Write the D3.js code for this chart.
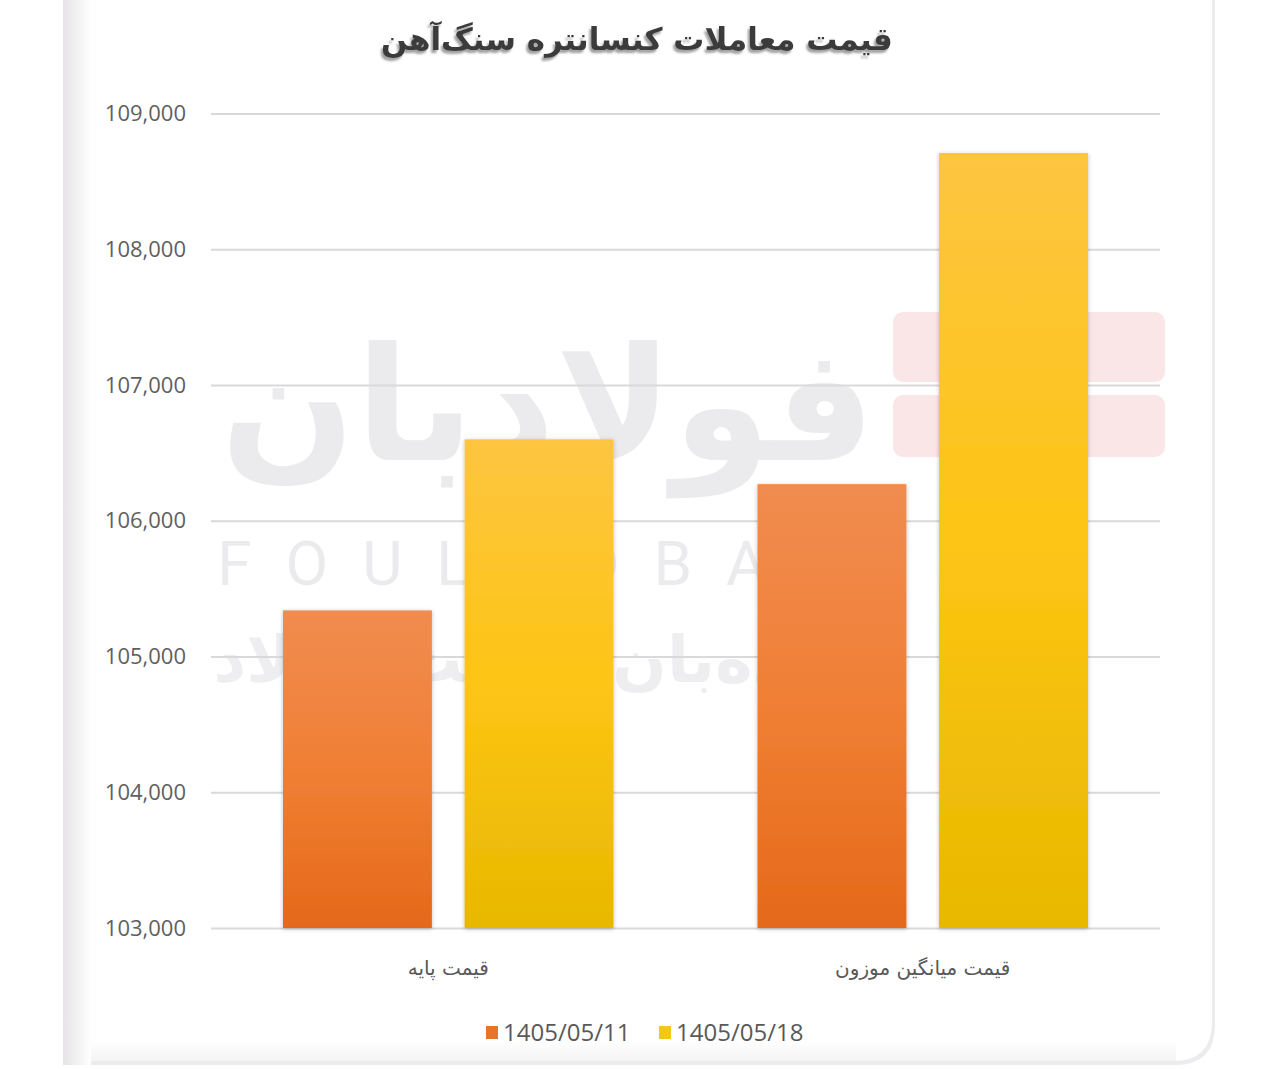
<!DOCTYPE html>
<html><head><meta charset="utf-8">
<script src="https://cdn.jsdelivr.net/npm/d3@7"></script>
<style>
html,body{margin:0;padding:0;background:#fff;}
svg{display:block;}
</style></head>
<body>
<svg id="chart" width="1280" height="1069"></svg>
<script>
const title = "قیمت معاملات کنسانتره سنگ‌آهن";
const categories = ["قیمت پایه", "قیمت میانگین موزون"];
const seriesNames = ["1405/05/11", "1405/05/18"];
const series1 = [105340, 106270];
const series2 = [106600, 108710];
const yTicks = [103000, 104000, 105000, 106000, 107000, 108000, 109000];

const svg = d3.select("#chart");
const defs = svg.append("defs");

const lg = defs.append("linearGradient").attr("id","leftShade").attr("x1",0).attr("x2",1).attr("y1",0).attr("y2",0);
lg.append("stop").attr("offset",0).attr("stop-color","#e6e4e6");
lg.append("stop").attr("offset",1).attr("stop-color","#ffffff");
const bg = defs.append("linearGradient").attr("id","botShade").attr("x1",0).attr("x2",0).attr("y1",0).attr("y2",1);
bg.append("stop").attr("offset",0).attr("stop-color","#ffffff");
bg.append("stop").attr("offset",1).attr("stop-color","#ececee");

function barGrad(id, top, mid, bot){
  const g = defs.append("linearGradient").attr("id",id).attr("x1",0).attr("x2",0).attr("y1",0).attr("y2",1);
  g.append("stop").attr("offset",0).attr("stop-color",top);
  g.append("stop").attr("offset",0.5).attr("stop-color",mid);
  g.append("stop").attr("offset",1).attr("stop-color",bot);
}
barGrad("gOrange","#f08c50","#f07f34","#e5691a");
barGrad("gYellow","#fdc540","#fdc515","#e8b800");

const sh = defs.append("filter").attr("id","barShadow").attr("x","-10%").attr("y","-5%").attr("width","120%").attr("height","110%");
sh.append("feDropShadow").attr("dx",0).attr("dy",1).attr("stdDeviation",2).attr("flood-color","#000").attr("flood-opacity",0.25);

const ts = defs.append("filter").attr("id","titleShadow").attr("x","-5%").attr("y","-20%").attr("width","110%").attr("height","150%");
ts.append("feDropShadow").attr("dx",-2).attr("dy",3).attr("stdDeviation",1.2).attr("flood-color","#777").attr("flood-opacity",0.7);

// card
svg.append("path")
  .attr("d","M63,-5 H1215 V1025 Q1215,1065 1175,1065 H63 Z")
  .attr("fill","#ececee");
svg.append("path")
  .attr("d","M66,-5 H1212 V1022 Q1212,1061 1173,1061 H66 Z")
  .attr("fill","#fff");
svg.append("rect").attr("x",63).attr("y",0).attr("width",28).attr("height",1065).attr("fill","url(#leftShade)");
svg.append("rect").attr("x",91).attr("y",1040).attr("width",1085).attr("height",22).attr("fill","url(#botShade)").attr("opacity",0.6);

// watermark (kept right of the tick labels)
const wm = svg.append("g").attr("opacity",0.5);
wm.append("text").attr("x",548).attr("y",460).attr("text-anchor","middle")
  .attr("font-family","DejaVu Sans").attr("font-weight","bold").attr("font-size",158)
  .attr("fill","#d8d8dc").text("فولادبان");
wm.append("text").attr("x",548).attr("y",585).attr("text-anchor","middle")
  .attr("font-family","Roboto, 'DejaVu Sans'").attr("font-size",62).attr("letter-spacing",34)
  .attr("fill","#d8d8dc").text("FOULADBAN");
wm.append("text").attr("x",530).attr("y",682).attr("text-anchor","middle")
  .attr("font-family","DejaVu Sans").attr("font-weight","bold").attr("font-size",64)
  .attr("fill","#dedee2").text("دیده‌بان صنعت فولاد");
const lw = svg.append("g").attr("opacity",0.35).attr("fill","#f4b8bd");
lw.append("rect").attr("x",893).attr("y",312).attr("width",272).attr("height",70).attr("rx",10);
lw.append("rect").attr("x",893).attr("y",395).attr("width",272).attr("height",62).attr("rx",10);
lw.append("rect").attr("x",968).attr("y",395).attr("width",60).attr("height",312).attr("rx",10);

// title
svg.append("text").attr("x",637).attr("y",50).attr("text-anchor","middle")
  .attr("font-family","DejaVu Sans").attr("font-weight","bold").attr("font-size",31)
  .attr("fill","#3a3a3a").attr("filter","url(#titleShadow)").text(title);

// scales
const plot = {left:211, right:1160, top:113.6, bottom:928};
const y = d3.scaleLinear().domain([103000,109000]).range([plot.bottom, plot.top]);
const x0 = d3.scaleBand().domain(categories).range([plot.left, plot.right]).padding(0);
const x1 = d3.scaleBand().domain(seriesNames).range([72, x0.bandwidth()-72]).paddingInner(0.18).paddingOuter(0);

const yAxis = d3.axisLeft(y).tickValues(yTicks).tickSize(-(plot.right-plot.left)).tickPadding(25)
  .tickFormat(d3.format(","));
const ga = svg.append("g").attr("transform",`translate(${plot.left},0)`).call(yAxis);
ga.select(".domain").remove();
ga.selectAll(".tick line").attr("stroke","#d9d9d9").attr("stroke-width",2);
ga.selectAll(".tick text").attr("font-family","'Open Sans', 'DejaVu Sans'").attr("font-size",22)
  .attr("fill","#5f5f5f");

// bars
const data = categories.map((c,i)=>({cat:c, vals:[{s:seriesNames[0],v:series1[i],f:"url(#gOrange)"},{s:seriesNames[1],v:series2[i],f:"url(#gYellow)"}]}));
const groups = svg.append("g").selectAll("g").data(data).join("g")
  .attr("transform",d=>`translate(${x0(d.cat)},0)`);
groups.selectAll("rect").data(d=>d.vals).join("rect")
  .attr("x",d=>x1(d.s)).attr("width",x1.bandwidth())
  .attr("y",d=>y(d.v)).attr("height",d=>y(103000)-y(d.v))
  .attr("fill",d=>d.f).attr("filter","url(#barShadow)");

// category labels
svg.append("g").selectAll("text").data(categories).join("text")
  .attr("x",d=>x0(d)+x0.bandwidth()/2).attr("y",975).attr("text-anchor","middle")
  .attr("font-family","DejaVu Sans").attr("font-size",20).attr("fill","#595959").text(d=>d);

// legend
const legColors = ["#e8742a","#f5c518"];
const lx = [486, 659];
const leg = svg.append("g").selectAll("g").data(seriesNames).join("g")
  .attr("transform",(d,i)=>`translate(${lx[i]},1026)`);
leg.append("rect").attr("x",0).attr("y",0).attr("width",12).attr("height",13).attr("fill",(d,i)=>legColors[i]);
leg.append("text").attr("x",17).attr("y",15).attr("font-family","'Open Sans','DejaVu Sans'")
  .attr("font-size",24).attr("fill","#595959").text(d=>d);
</script>
</body></html>
